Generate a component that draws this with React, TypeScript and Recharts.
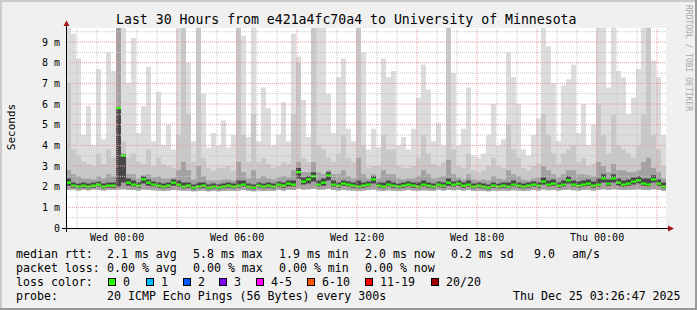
import React from 'react';
import { ComposedChart, Area, XAxis, YAxis, CartesianGrid, ReferenceLine } from 'recharts';

// 30 h window, hours relative to Wed 00:00 (start Tue 21:26:47, end Thu 03:26:47)
const T0 = -2.5536;
const SLOT = 0.25; // one column = 15 min

// smoke, values in ms, one value per 15 min column
const maxRtt = [
  9.68, 9.4, 8.2, 4.5, 5.9, 4.0, 7.7, 4.3, 8.5, 7.6,
  9.68, 9.68, 7.0, 9.2, 4.6, 5.9, 7.8, 4.2, 6.6, 4.0,
  5.0, 3.8, 9.68, 9.68, 8.0, 4.2, 9.68, 6.5, 3.9, 4.6,
  4.0, 5.2, 3.9, 4.5, 9.68, 9.3, 4.4, 9.68, 4.2, 6.8,
  5.8, 4.0, 4.5, 6.1, 4.2, 9.4, 8.3, 6.2, 4.4, 9.68,
  9.68, 9.68, 6.5, 4.6, 7.3, 8.2, 4.8, 4.2, 9.68, 8.5,
  3.8, 4.8, 3.9, 8.2, 7.3, 7.6, 4.0, 4.4, 3.8, 4.8,
  6.3, 7.9, 6.7, 4.2, 5.1, 4.0, 9.68, 7.5, 4.0, 4.8,
  6.8, 3.5, 3.4, 3.6, 4.5, 6.0, 4.0, 4.3, 8.5, 7.3,
  6.0, 3.8, 3.5, 4.5, 5.3, 9.68, 8.8, 7.0, 4.2, 6.9,
  7.2, 7.9, 4.6, 6.0, 4.0, 5.0, 9.68, 9.68, 6.8, 9.68,
  7.6, 7.3, 5.5, 6.3, 7.7, 9.68, 9.68, 8.1, 7.3, 4.5,
];
const p85 = [
  7.0, 3.8, 3.5, 3.2, 3.1, 3.0, 3.6, 3.1, 3.8, 3.4,
  9.68, 4.2, 3.4, 3.6, 3.2, 3.1, 3.8, 3.0, 3.4, 3.1,
  3.0, 2.9, 4.5, 9.68, 5.5, 3.2, 9.68, 3.4, 2.9, 2.8,
  2.9, 2.9, 3.0, 2.8, 9.68, 4.5, 3.2, 5.5, 3.2, 3.4,
  3.1, 2.9, 3.0, 3.2, 3.1, 5.5, 8.0, 3.4, 3.2, 9.68,
  4.0, 3.8, 3.4, 3.2, 3.6, 4.5, 3.4, 3.2, 9.68, 4.0,
  2.9, 3.0, 3.0, 4.5, 3.8, 3.8, 3.0, 2.9, 2.9, 3.0,
  3.4, 4.5, 3.6, 3.1, 3.0, 3.2, 9.68, 3.8, 3.0, 2.9,
  3.6, 2.8, 2.7, 2.8, 3.0, 3.4, 3.0, 2.9, 5.0, 3.8,
  3.4, 2.9, 2.8, 3.0, 3.1, 5.5, 4.5, 3.6, 3.1, 3.6,
  3.8, 4.0, 3.2, 3.4, 3.0, 3.1, 6.0, 4.5, 3.6, 5.5,
  4.0, 3.8, 3.6, 3.4, 4.0, 5.5, 9.68, 4.5, 3.8, 3.0,
];
const p70 = [
  2.8, 2.6, 2.5, 2.4, 2.4, 2.35, 2.5, 2.4, 2.6, 2.5,
  9.68, 3.6, 2.6, 2.6, 2.4, 2.55, 2.6, 2.45, 2.5, 2.4,
  2.4, 2.45, 2.8, 3.2, 2.8, 2.35, 3.0, 2.5, 2.3, 2.3,
  2.3, 2.35, 2.35, 2.3, 3.2, 2.7, 2.4, 2.8, 2.4, 2.5,
  2.4, 2.35, 2.45, 2.5, 2.45, 2.8, 3.2, 2.7, 2.7, 3.2,
  2.7, 2.6, 2.8, 2.6, 2.6, 2.8, 2.5, 2.4, 3.4, 2.6,
  2.4, 2.6, 2.4, 2.8, 2.6, 2.6, 2.4, 2.35, 2.4, 2.4,
  2.5, 2.8, 2.6, 2.4, 2.45, 2.5, 3.3, 2.6, 2.45, 2.35,
  2.6, 2.35, 2.3, 2.35, 2.3, 2.5, 2.4, 2.35, 2.8, 2.6,
  2.5, 2.35, 2.3, 2.4, 2.45, 3.0, 2.8, 2.6, 2.45, 2.6,
  2.8, 2.8, 2.6, 2.6, 2.55, 2.5, 3.2, 3.0, 2.7, 3.1,
  2.8, 2.8, 2.7, 2.7, 2.8, 3.2, 3.4, 2.9, 2.7, 2.4,
];
const p55 = [
  2.4, 2.2, 2.15, 2.2, 2.15, 2.2, 2.25, 2.15, 2.2, 2.2,
  5.8, 3.5, 2.4, 2.3, 2.2, 2.5, 2.35, 2.25, 2.2, 2.15,
  2.2, 2.35, 2.3, 2.2, 2.2, 2.1, 2.2, 2.2, 2.1, 2.15,
  2.1, 2.15, 2.2, 2.15, 2.3, 2.3, 2.15, 2.1, 2.2, 2.15,
  2.2, 2.15, 2.25, 2.2, 2.3, 2.3, 2.9, 2.45, 2.5, 2.7,
  2.3, 2.4, 2.7, 2.3, 2.2, 2.3, 2.25, 2.2, 2.3, 2.2,
  2.25, 2.5, 2.2, 2.2, 2.3, 2.2, 2.15, 2.2, 2.25, 2.2,
  2.2, 2.3, 2.2, 2.15, 2.25, 2.2, 2.4, 2.25, 2.3, 2.2,
  2.3, 2.15, 2.2, 2.15, 2.1, 2.2, 2.15, 2.2, 2.2, 2.3,
  2.2, 2.15, 2.2, 2.25, 2.2, 2.45, 2.3, 2.35, 2.2, 2.3,
  2.5, 2.3, 2.25, 2.3, 2.35, 2.25, 2.4, 2.6, 2.35, 2.6,
  2.4, 2.3, 2.35, 2.45, 2.5, 2.4, 2.4, 2.55, 2.35, 2.2,
];
const p40 = [
  2.05, 1.95, 1.92, 1.95, 1.92, 1.95, 2.0, 1.92, 1.95, 1.95,
  2.0, 2.2, 2.05, 2.0, 1.95, 2.15, 2.05, 2.0, 1.95, 1.92,
  1.95, 2.05, 2.0, 1.92, 1.95, 1.88, 1.92, 1.95, 1.88, 1.92,
  1.88, 1.92, 1.95, 1.92, 1.95, 2.0, 1.92, 1.88, 1.95, 1.92,
  1.95, 1.92, 2.0, 1.95, 2.0, 2.0, 2.4, 2.1, 2.15, 2.25,
  2.0, 2.05, 2.3, 2.0, 1.95, 2.05, 2.0, 1.95, 1.92, 1.95,
  2.0, 2.15, 1.95, 1.92, 2.0, 1.95, 1.92, 1.95, 2.0, 1.95,
  1.92, 2.0, 1.95, 1.92, 2.0, 1.95, 2.05, 2.0, 2.05, 1.95,
  2.0, 1.92, 1.95, 1.92, 1.88, 1.95, 1.92, 1.95, 1.92, 2.0,
  1.95, 1.92, 1.95, 2.0, 1.95, 2.1, 2.0, 2.05, 1.95, 2.0,
  2.15, 2.0, 1.95, 2.0, 2.05, 1.95, 2.0, 2.2, 2.05, 2.2,
  2.05, 2.0, 2.05, 2.1, 2.15, 2.05, 2.0, 2.2, 2.05, 1.92,
];
const minRtt = [
  1.84, 1.86, 1.82, 1.85, 1.83, 1.86, 1.84, 1.82, 1.85, 1.84,
  1.86, 1.88, 1.85, 1.84, 1.82, 1.86, 1.85, 1.83, 1.82, 1.8,
  1.82, 1.84, 1.83, 1.8, 1.82, 1.78, 1.8, 1.82, 1.78, 1.8,
  1.78, 1.8, 1.82, 1.8, 1.82, 1.84, 1.8, 1.78, 1.82, 1.8,
  1.82, 1.8, 1.84, 1.82, 1.85, 1.84, 1.9, 1.86, 1.88, 1.9,
  1.85, 1.86, 1.9, 1.84, 1.82, 1.85, 1.83, 1.82, 1.8, 1.82,
  1.84, 1.86, 1.82, 1.8, 1.83, 1.82, 1.8, 1.82, 1.84, 1.82,
  1.8, 1.83, 1.82, 1.8, 1.84, 1.82, 1.85, 1.83, 1.84, 1.82,
  1.84, 1.8, 1.82, 1.8, 1.78, 1.82, 1.8, 1.82, 1.8, 1.83,
  1.82, 1.8, 1.82, 1.84, 1.82, 1.86, 1.83, 1.85, 1.82, 1.84,
  1.86, 1.83, 1.82, 1.84, 1.85, 1.82, 1.84, 1.88, 1.85, 1.88,
  1.85, 1.84, 1.85, 1.86, 1.87, 1.85, 1.84, 1.87, 1.85, 1.8,
];
const medianRtt = [
  2.2, 2.05, 2.0, 2.05, 2.0, 2.05, 2.1, 2.0, 2.05, 2.05,
  5.8, 3.5, 2.2, 2.1, 2.05, 2.35, 2.2, 2.1, 2.05, 2.0,
  2.05, 2.2, 2.1, 2.0, 2.05, 1.95, 2.0, 2.05, 1.95, 2.0,
  1.95, 2.0, 2.05, 2.0, 2.05, 2.1, 2.0, 1.95, 2.05, 2.0,
  2.05, 2.0, 2.1, 2.05, 2.15, 2.1, 2.7, 2.25, 2.35, 2.5,
  2.1, 2.2, 2.55, 2.1, 2.05, 2.15, 2.1, 2.05, 2.0, 2.05,
  2.1, 2.35, 2.05, 2.0, 2.1, 2.05, 2.0, 2.05, 2.1, 2.05,
  2.0, 2.1, 2.05, 2.0, 2.1, 2.05, 2.2, 2.1, 2.15, 2.05,
  2.1, 2.0, 2.05, 2.0, 1.95, 2.05, 2.0, 2.05, 2.0, 2.1,
  2.05, 2.0, 2.05, 2.1, 2.05, 2.25, 2.1, 2.15, 2.05, 2.1,
  2.3, 2.1, 2.05, 2.1, 2.15, 2.05, 2.1, 2.4, 2.15, 2.4,
  2.2, 2.1, 2.15, 2.25, 2.3, 2.15, 2.1, 2.35, 2.15, 2.0,
];

const xTicks = [0, 6, 12, 18, 24];
const xTickLabels = ['Wed 00:00', 'Wed 06:00', 'Wed 12:00', 'Wed 18:00', 'Thu 00:00'];
const yTicks = [0, 1, 2, 3, 4, 5, 6, 7, 8, 9];
const yTickLabels = ['0', '1 m', '2 m', '3 m', '4 m', '5 m', '6 m', '7 m', '8 m', '9 m'];

const lossLabels = ['0', '1', '2', '3', '4-5', '6-10', '11-19', '20/20'];
const lossColors = ['#26ff00', '#00b8ff', '#0059ff', '#7e00ff', '#ff00ff', '#ff5500', '#ff0000', '#a10000'];

const Y_MAX = 9.68;
const T1 = T0 + 30;
const MED_HALF = 0.055; // thickness of the median stripe

const data = Array.from({ length: maxRtt.length + 1 }, (_, s) => {
  const i = Math.min(s, maxRtt.length - 1);
  return {
    t: T0 + s * SLOT,
    light: [minRtt[i], maxRtt[i]],
    mid: [minRtt[i], p85[i]],
    dmid: [minRtt[i], p70[i]],
    dark: [p40[i], p55[i]],
    med: [medianRtt[i] - MED_HALF, medianRtt[i] + MED_HALF],
  };
});

const minorH: number[] = [];
for (let v = 0.5; v < Y_MAX; v += 1) minorH.push(v);
const majorH = yTicks.filter(v => v > 0);
const hours: number[] = [];
for (let h = -2; h <= 27; h++) hours.push(h);

const mono = '"DejaVu Sans Mono", monospace';
const legendFont = { fontFamily: mono, fontSize: 11.6, fill: '#000' };

const App: React.FC = () => {
  return (
    <div style={{ position: 'absolute', left: 0, top: 0, width: 697, height: 310, background: '#f0f0f0' }}>
      <ComposedChart width={697} height={310} data={data} margin={{ top: 28, right: 31, bottom: 52, left: 0 }}>
        <CartesianGrid horizontal={false} vertical={false} fill="#ffffff" stroke="none" />
        <XAxis
          type="number"
          dataKey="t"
          domain={[T0, T1]}
          allowDataOverflow
          ticks={xTicks}
          tickFormatter={(v: number) => xTickLabels[xTicks.indexOf(v)] ?? ''}
          axisLine={false}
          tickLine={false}
          tickSize={0}
          tickMargin={6}
          height={30}
          tick={{ fontFamily: mono, fontSize: 10, fill: '#000' }}
        />
        <YAxis
          type="number"
          domain={[0, Y_MAX]}
          allowDataOverflow
          ticks={yTicks}
          tickFormatter={(v: number) => yTickLabels[yTicks.indexOf(v)] ?? ''}
          axisLine={false}
          tickLine={false}
          tickSize={0}
          tickMargin={6}
          width={66}
          tick={{ fontFamily: mono, fontSize: 10, fill: '#000' }}
        />
        <Area type="stepAfter" dataKey="light" stroke="none" fill="#dcdcdc" fillOpacity={1} isAnimationActive={false} />
        <Area type="stepAfter" dataKey="mid" stroke="none" fill="#c8c8c8" fillOpacity={1} isAnimationActive={false} />
        <Area type="stepAfter" dataKey="dmid" stroke="none" fill="#a2a2a2" fillOpacity={1} isAnimationActive={false} />
        <Area type="stepAfter" dataKey="dark" stroke="none" fill="#484848" fillOpacity={1} isAnimationActive={false} />
        <Area type="stepAfter" dataKey="med" stroke="none" fill="#26ff00" fillOpacity={1} isAnimationActive={false} />
        {minorH.map(v => (
          <ReferenceLine key={'mh' + v} y={v} stroke="#c4c4c4" strokeDasharray="1 1" />
        ))}
        {majorH.map(v => (
          <ReferenceLine key={'Mh' + v} y={v} stroke="#e59a9a" strokeDasharray="1 1" />
        ))}
        {hours.map(h => (
          <ReferenceLine
            key={'v' + h}
            x={h}
            stroke={h % 3 === 0 ? '#e59a9a' : '#c4c4c4'}
            strokeDasharray="1 1"
          />
        ))}
      </ComposedChart>

      <svg width={697} height={310} style={{ position: 'absolute', left: 0, top: 0, pointerEvents: 'none' }}>
        {/* frame */}
        <rect x={0} y={0} width={697} height={2} fill="#cbcbcb" />
        <rect x={0} y={0} width={2} height={310} fill="#cbcbcb" />
        <rect x={0} y={308} width={697} height={2} fill="#999999" />
        <rect x={695} y={0} width={2} height={310} fill="#999999" />

        {/* axes */}
        <line x1={62} y1={228.5} x2={668} y2={228.5} stroke="#000" strokeWidth={1} />
        <line x1={66.5} y1={232} x2={66.5} y2={25} stroke="#000" strokeWidth={1} />
        <polygon points="668,225.5 674,228.5 668,231.5" fill="#a31515" />
        <polygon points="63.5,26 66.5,20.5 69.5,26" fill="#a31515" />

        <text x={116} y={24} style={{ fontFamily: mono, fontSize: 13.2, fill: '#000' }}>
          Last 30 Hours from e421a4fc70a4 to University of Minnesota
        </text>
        <text
          x={11}
          y={127}
          textAnchor="middle"
          dominantBaseline="central"
          transform="rotate(-90 11 127)"
          style={{ fontFamily: mono, fontSize: 11, fill: '#000' }}
        >
          Seconds
        </text>
        <text
          x={688}
          y={5}
          dominantBaseline="central"
          transform="rotate(90 688 5)"
          style={{ fontFamily: mono, fontSize: 8, fill: '#a8a8a8' }}
        >
          RRDTOOL / TOBI OETIKER
        </text>

        {/* legend */}
        <g style={legendFont}>
          <text x={16} y={258}>median rtt:</text>
          <text x={107} y={258}>2.1 ms avg</text>
          <text x={193} y={258}>5.8 ms max</text>
          <text x={279} y={258}>1.9 ms min</text>
          <text x={365} y={258}>2.0 ms now</text>
          <text x={451} y={258}>0.2 ms sd</text>
          <text x={534} y={258}>9.0</text>
          <text x={572} y={258}>am/s</text>

          <text x={16} y={272}>packet loss:</text>
          <text x={107} y={272}>0.00 % avg</text>
          <text x={193} y={272}>0.00 % max</text>
          <text x={279} y={272}>0.00 % min</text>
          <text x={365} y={272}>0.00 % now</text>

          <text x={16} y={286}>loss color:</text>
          {lossLabels.map((lbl, i) => {
            const sx = [108, 146, 183, 219, 256, 307, 365, 431][i];
            return (
              <g key={lbl}>
                <rect x={sx + 0.5} y={278.5} width={7} height={7} fill={lossColors[i]} stroke="#000" strokeWidth={1} />
                <text x={sx + 15} y={286}>{lbl}</text>
              </g>
            );
          })}

          <text x={16} y={300}>probe:</text>
          <text x={107} y={300}>20 ICMP Echo Pings (56 Bytes) every 300s</text>
          <text x={513} y={300}>Thu Dec 25 03:26:47 2025</text>
        </g>
      </svg>
    </div>
  );
};

export default App;
